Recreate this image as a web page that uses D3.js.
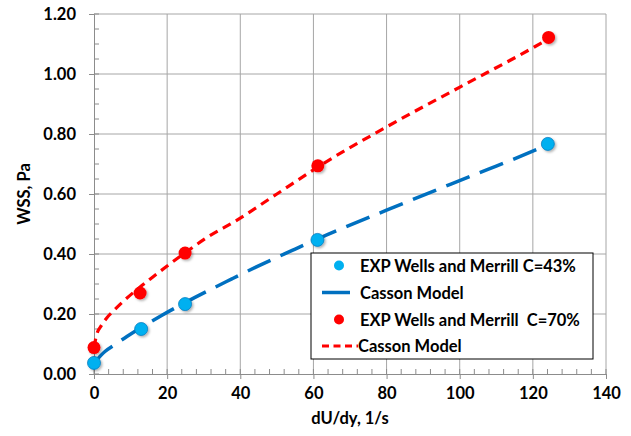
<!DOCTYPE html>
<html>
<head>
<meta charset="utf-8">
<script src="https://cdn.jsdelivr.net/npm/d3@7"></script>
<style>
  html, body { margin: 0; padding: 0; background: #fff; }
  svg { display: block; }
  text { font-family: Lato, "Open Sans", sans-serif; font-weight: bold; fill: #000; }
</style>
</head>
<body>
<svg id="chart" width="631" height="436"></svg>
<script>
// Wall shear stress vs shear rate: experiments and Casson model fits
const xTicks = [0, 20, 40, 60, 80, 100, 120, 140];
const yTicks = [0.00, 0.20, 0.40, 0.60, 0.80, 1.00, 1.20];

// Experimental points (Wells and Merrill)
const exp43X = [0, 12.9, 24.9, 61.1, 124.1];
const exp43Y = [0.037, 0.15, 0.233, 0.447, 0.767];
const exp70X = [0, 12.6, 24.9, 61.2, 124.3];
const exp70Y = [0.088, 0.27, 0.403, 0.694, 1.122];

// Casson model curves
const casson43X = [0, 3, 6.2, 9, 12.9, 18.6, 24.9, 37.7, 44.4, 54.2, 61.1, 80, 97.6, 107.7, 114.5, 124.1];
const casson43Y = [0.037, 0.075, 0.102, 0.125, 0.155, 0.196, 0.238, 0.317, 0.357, 0.412, 0.45, 0.546, 0.633, 0.682, 0.715, 0.764];
const casson70X = [0, 0.7, 2.1, 3.7, 5.3, 8, 12.6, 15.4, 20, 24.9, 30.9, 38.7, 50, 61.2, 80.2, 100.3, 120.4, 124.3];
const casson70Y = [0.088, 0.13, 0.163, 0.19, 0.21, 0.242, 0.29, 0.317, 0.36, 0.404, 0.455, 0.51, 0.6, 0.69, 0.825, 0.958, 1.09, 1.117];

const legendLabels = ["EXP Wells and Merrill C=43%", "Casson Model", "EXP Wells and Merrill  C=70%", "Casson Model"];

const blueFill = "#00B0F0", blueLine = "#0070C0", red = "#FF0000";

const svg = d3.select("#chart");
const plot = { left: 94, right: 606, top: 14, bottom: 374 };

const x = d3.scaleLinear().domain([0, 140]).range([plot.left, plot.right]);
const y = d3.scaleLinear().domain([0, 1.2]).range([plot.bottom, plot.top]);

// marker shadow
const defs = svg.append("defs");
const f = defs.append("filter").attr("id", "shadow")
  .attr("x", "-50%").attr("y", "-50%").attr("width", "200%").attr("height", "200%");
f.append("feDropShadow").attr("dx", 1.5).attr("dy", 1.5).attr("stdDeviation", 1.2)
  .attr("flood-color", "#000").attr("flood-opacity", 0.3);

// gridlines
const grid = svg.append("g");
grid.selectAll("line.v").data(xTicks.slice(1)).join("line")
  .attr("x1", d => x(d)).attr("x2", d => x(d))
  .attr("y1", plot.top).attr("y2", plot.bottom)
  .attr("stroke", "#A6A6A6").attr("stroke-width", 1);
grid.selectAll("line.h").data(yTicks.slice(1)).join("line")
  .attr("x1", plot.left).attr("x2", plot.right)
  .attr("y1", d => y(d)).attr("y2", d => y(d))
  .attr("stroke", "#A6A6A6").attr("stroke-width", 1);

// y axis: major ticks outward, minor ticks inward
const yAxis = svg.append("g").attr("transform", `translate(${plot.left},0)`)
  .call(d3.axisLeft(y).tickValues(yTicks).tickSize(5).tickFormat(d3.format(".2f")));
yAxis.select(".domain").attr("stroke", "#8C8C8C");
yAxis.selectAll(".tick line").attr("stroke", "#8C8C8C");
yAxis.selectAll(".tick text").attr("x", -18).attr("font-size", 16.5)
  .attr("font-family", "Lato, 'Open Sans', sans-serif").attr("font-weight", "bold").attr("fill", "#000");
yAxis.append("g").selectAll("line").data(d3.range(0, 1.2001, 0.05)).join("line")
  .attr("x1", 0).attr("x2", 5).attr("y1", d => y(d)).attr("y2", d => y(d))
  .attr("stroke", "#8C8C8C");

// x axis: major ticks outward, minor ticks inward
const xAxis = svg.append("g").attr("transform", `translate(0,${plot.bottom})`)
  .call(d3.axisBottom(x).tickValues(xTicks).tickSize(5).tickFormat(d3.format("d")));
xAxis.select(".domain").attr("stroke", "#8C8C8C");
xAxis.selectAll(".tick line").attr("stroke", "#8C8C8C");
xAxis.selectAll(".tick text").attr("y", 13).attr("font-size", 16.5)
  .attr("font-family", "Lato, 'Open Sans', sans-serif").attr("font-weight", "bold").attr("fill", "#000");
xAxis.append("g").selectAll("line").data(d3.range(0, 140.001, 4)).join("line")
  .attr("x1", d => x(d)).attr("x2", d => x(d)).attr("y1", 0).attr("y2", -5)
  .attr("stroke", "#8C8C8C");

// axis titles
svg.append("text").attr("transform", `translate(30,${(plot.top + plot.bottom) / 2}) rotate(-90)`)
  .attr("text-anchor", "middle").attr("font-size", 16.5).text("WSS, Pa");
svg.append("text").attr("x", (plot.left + plot.right) / 2).attr("y", 424)
  .attr("text-anchor", "middle").attr("font-size", 16.5).text("dU/dy, 1/s");

// Casson model lines
const line = d3.line().x(d => x(d[0])).y(d => y(d[1])).curve(d3.curveMonotoneX);
svg.append("path").datum(d3.zip(casson43X, casson43Y)).attr("d", line)
  .attr("fill", "none").attr("stroke", blueLine).attr("stroke-width", 3.5)
  .attr("stroke-dasharray", "25 11");
svg.append("path").datum(d3.zip(casson70X, casson70Y)).attr("d", line)
  .attr("fill", "none").attr("stroke", red).attr("stroke-width", 3.2)
  .attr("stroke-dasharray", "9 6");

// experimental markers
svg.append("g").attr("filter", "url(#shadow)").selectAll("circle")
  .data(d3.zip(exp43X, exp43Y)).join("circle")
  .attr("cx", d => x(d[0])).attr("cy", d => y(d[1])).attr("r", 6.5)
  .attr("fill", blueFill).attr("stroke", "#0A7CC0").attr("stroke-width", 0.8);
svg.append("g").attr("filter", "url(#shadow)").selectAll("circle")
  .data(d3.zip(exp70X, exp70Y)).join("circle")
  .attr("cx", d => x(d[0])).attr("cy", d => y(d[1])).attr("r", 6.5)
  .attr("fill", red);

// legend
const lg = svg.append("g").attr("transform", "translate(311,253)");
lg.append("rect").attr("x", 0).attr("y", 0).attr("width", 282).attr("height", 106)
  .attr("fill", "#fff").attr("stroke", "#000").attr("stroke-width", 1);
const rowY = [12.5, 39.5, 66.5, 93];
lg.append("circle").attr("cx", 28).attr("cy", rowY[0]).attr("r", 5).attr("fill", blueFill);
lg.append("line").attr("x1", 11).attr("x2", 39).attr("y1", rowY[1]).attr("y2", rowY[1])
  .attr("stroke", blueLine).attr("stroke-width", 3.5);
lg.append("circle").attr("cx", 28).attr("cy", rowY[2]).attr("r", 5).attr("fill", red);
lg.append("line").attr("x1", 11).attr("x2", 47).attr("y1", rowY[3]).attr("y2", rowY[3])
  .attr("stroke", red).attr("stroke-width", 3).attr("stroke-dasharray", "7 4.5");
lg.selectAll("text.lbl").data(legendLabels).join("text")
  .attr("x", (d, i) => i === 3 ? 47 : 49).attr("y", (d, i) => rowY[i] + 6)
  .attr("font-size", 16.5).style("white-space", "pre").text(d => d);
</script>
</body>
</html>
